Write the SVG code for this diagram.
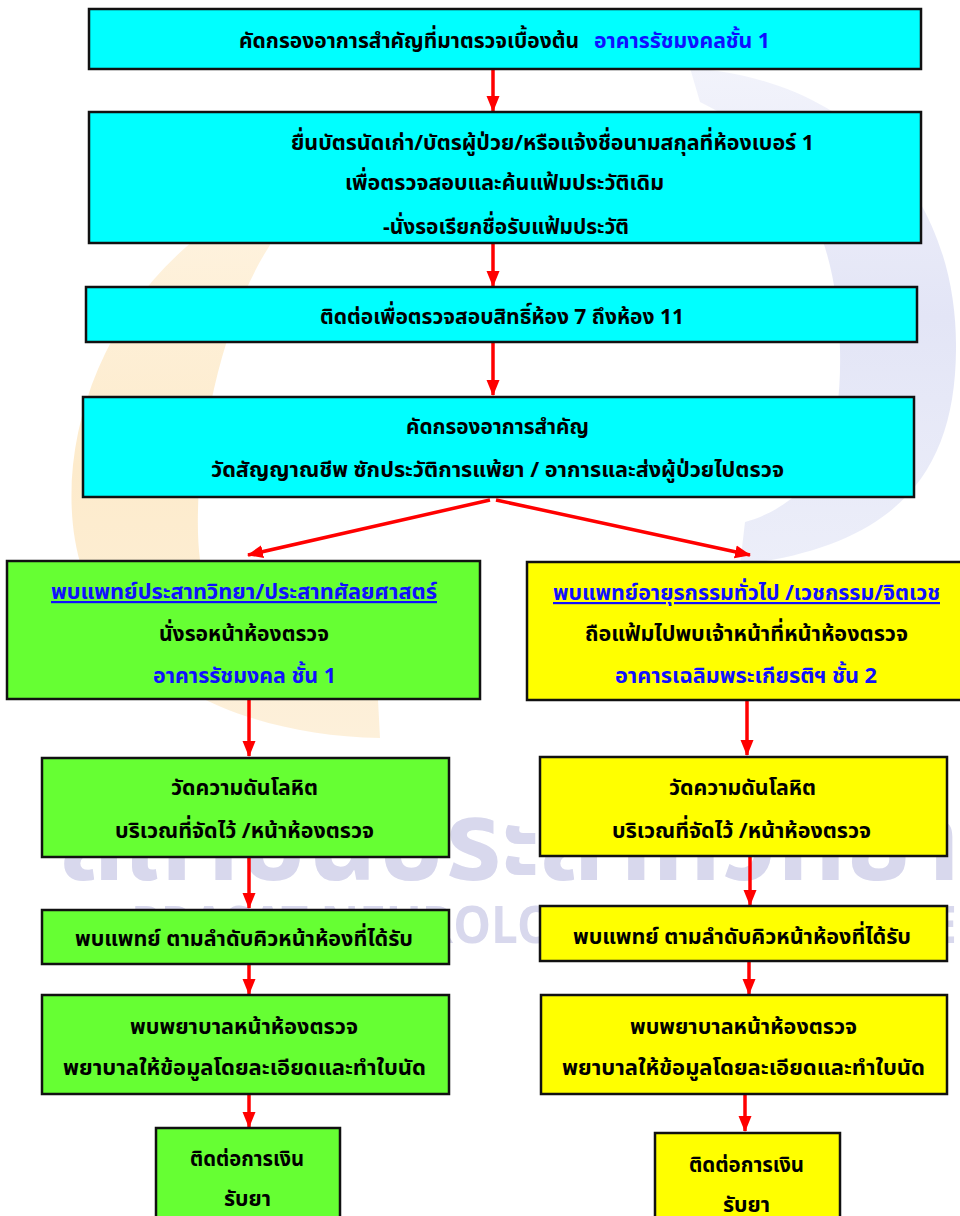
<svg xmlns="http://www.w3.org/2000/svg" width="960" height="1216" viewBox="0 0 960 1216">
<defs>
<style>
.t{font-family:Tahoma,"Noto Sans Thai","Noto Sans","DejaVu Sans",sans-serif;font-weight:bold;font-size:22px;fill:#000}
.b{fill:#1010ff}
.u{text-decoration:underline}
.cy{fill:#00ffff;stroke:#111;stroke-width:2.5}
.gr{fill:#66ff33;stroke:#111;stroke-width:2.5}
.ye{fill:#ffff00;stroke:#111;stroke-width:2.5}
.ar{stroke:#ff0000;stroke-width:3.5;fill:none;marker-end:url(#ah)}
.wm{font-family:Tahoma,"Noto Sans Thai","Noto Sans",sans-serif;font-weight:bold;fill:#d8d8ed}
</style>
<marker id="ah" markerUnits="userSpaceOnUse" markerWidth="16" markerHeight="16" viewBox="0 0 16 16" refX="15" refY="8" orient="auto">
<path d="M0,1.5 L16,8 L0,14.5 Z" fill="#ff0000"/>
</marker>
<linearGradient id="og" x1="0" y1="0" x2="0" y2="1">
<stop offset="0" stop-color="#fef3e0"/>
<stop offset="0.5" stop-color="#fdebcc"/>
<stop offset="1" stop-color="#fdf0da"/>
</linearGradient>
<linearGradient id="bg" x1="0" y1="0" x2="0" y2="1">
<stop offset="0" stop-color="#f2f3fb"/>
<stop offset="0.5" stop-color="#e3e5f6"/>
<stop offset="1" stop-color="#eceef9"/>
</linearGradient>
</defs>
<rect width="960" height="1216" fill="#ffffff"/>
<g id="watermark">
<path d="M268,195 C120,260 55,420 75,540 C95,660 220,735 380,738 L378,700 C300,695 215,650 200,560 C190,480 215,330 270,245 Z" fill="url(#og)"/>
<path d="M690,68 C860,80 958,200 956,350 C955,470 900,545 740,565 L745,522 C820,500 842,440 840,350 C838,240 800,150 700,102 Z" fill="url(#bg)"/>
<text class="wm" x="60" y="880" font-size="110" textLength="900" lengthAdjust="spacingAndGlyphs">สถาบันประสาทวิทยา</text>
<text class="wm" x="131" y="943" font-size="52" textLength="826" lengthAdjust="spacingAndGlyphs">PRASAT NEUROLOGICAL INSTITUTE</text>
</g>
<g id="connectors">
<line class="ar" x1="493" y1="69" x2="493" y2="111"/>
<line class="ar" x1="493" y1="243" x2="493" y2="286"/>
<line class="ar" x1="493" y1="342" x2="493" y2="395"/>
<line class="ar" x1="490" y1="500" x2="248" y2="555"/>
<line class="ar" x1="496" y1="500" x2="750" y2="555"/>
<line class="ar" x1="249" y1="699" x2="249" y2="756"/>
<line class="ar" x1="747" y1="700" x2="747" y2="755"/>
<line class="ar" x1="249" y1="857" x2="249" y2="908"/>
<line class="ar" x1="750" y1="856" x2="750" y2="905"/>
<line class="ar" x1="249" y1="964" x2="249" y2="994"/>
<line class="ar" x1="749" y1="961" x2="749" y2="994"/>
<line class="ar" x1="249" y1="1094" x2="249" y2="1127"/>
<line class="ar" x1="745" y1="1088" x2="745" y2="1131"/>
</g>
<g id="n1">
<rect class="cy" x="89" y="9" width="832" height="60"/>
<text class="t" x="239" y="48" textLength="340" lengthAdjust="spacingAndGlyphs">คัดกรองอาการสำคัญที่มาตรวจเบื้องต้น</text>
<text class="t b" x="594" y="48" textLength="176" lengthAdjust="spacingAndGlyphs">อาคารรัชมงคลชั้น 1</text>
</g>
<g id="n2">
<rect class="cy" x="89" y="112" width="832" height="131"/>
<text class="t" x="291" y="150" textLength="523" lengthAdjust="spacingAndGlyphs">ยื่นบัตรนัดเก่า/บัตรผู้ป่วย/หรือแจ้งชื่อนามสกุลที่ห้องเบอร์  1</text>
<text class="t" x="345" y="190" textLength="319" lengthAdjust="spacingAndGlyphs">เพื่อตรวจสอบและค้นแฟ้มประวัติเดิม</text>
<text class="t" x="383" y="234" textLength="246" lengthAdjust="spacingAndGlyphs">-นั่งรอเรียกชื่อรับแฟ้มประวัติ</text>
</g>
<g id="n3">
<rect class="cy" x="86" y="287" width="831" height="55"/>
<text class="t" x="320" y="324" textLength="364" lengthAdjust="spacingAndGlyphs">ติดต่อเพื่อตรวจสอบสิทธิ์ห้อง 7 ถึงห้อง 11</text>
</g>
<g id="n4">
<rect class="cy" x="83" y="397" width="831" height="100"/>
<text class="t" x="406" y="434" textLength="183" lengthAdjust="spacingAndGlyphs">คัดกรองอาการสำคัญ</text>
<text class="t" x="211" y="477" textLength="573" lengthAdjust="spacingAndGlyphs">วัดสัญญาณชีพ ซักประวัติการแพ้ยา / อาการและส่งผู้ป่วยไปตรวจ</text>
</g>
<g id="g1">
<rect class="gr" x="7" y="561" width="473" height="138"/>
<text class="t b u" x="51" y="599" textLength="386" lengthAdjust="spacingAndGlyphs">พบแพทย์ประสาทวิทยา/ประสาทศัลยศาสตร์</text>
<text class="t" x="159" y="641" textLength="170" lengthAdjust="spacingAndGlyphs">นั่งรอหน้าห้องตรวจ</text>
<text class="t b" x="153" y="683" textLength="183" lengthAdjust="spacingAndGlyphs">อาคารรัชมงคล ชั้น 1</text>
</g>
<g id="y1">
<rect class="ye" x="527" y="562" width="442" height="138"/>
<text class="t b u" x="553" y="600" textLength="387" lengthAdjust="spacingAndGlyphs">พบแพทย์อายุรกรรมทั่วไป /เวชกรรม/จิตเวช</text>
<text class="t" x="585" y="641" textLength="323" lengthAdjust="spacingAndGlyphs">ถือแฟ้มไปพบเจ้าหน้าที่หน้าห้องตรวจ</text>
<text class="t b" x="615" y="683" textLength="262" lengthAdjust="spacingAndGlyphs">อาคารเฉลิมพระเกียรติฯ ชั้น 2</text>
</g>
<g id="g2">
<rect class="gr" x="42" y="758" width="407" height="99"/>
<text class="t" x="171" y="795" textLength="147" lengthAdjust="spacingAndGlyphs">วัดความดันโลหิต</text>
<text class="t" x="115" y="838" textLength="259" lengthAdjust="spacingAndGlyphs">บริเวณที่จัดไว้ /หน้าห้องตรวจ</text>
</g>
<g id="y2">
<rect class="ye" x="540" y="757" width="407" height="99"/>
<text class="t" x="669" y="795" textLength="147" lengthAdjust="spacingAndGlyphs">วัดความดันโลหิต</text>
<text class="t" x="612" y="838" textLength="259" lengthAdjust="spacingAndGlyphs">บริเวณที่จัดไว้ /หน้าห้องตรวจ</text>
</g>
<g id="g3">
<rect class="gr" x="42" y="910" width="407" height="54"/>
<text class="t" x="75" y="946" textLength="338" lengthAdjust="spacingAndGlyphs">พบแพทย์ ตามลำดับคิวหน้าห้องที่ได้รับ</text>
</g>
<g id="y3">
<rect class="ye" x="540" y="906" width="407" height="55"/>
<text class="t" x="573" y="944" textLength="338" lengthAdjust="spacingAndGlyphs">พบแพทย์ ตามลำดับคิวหน้าห้องที่ได้รับ</text>
</g>
<g id="g4">
<rect class="gr" x="42" y="995" width="407" height="99"/>
<text class="t" x="130" y="1034" textLength="228" lengthAdjust="spacingAndGlyphs">พบพยาบาลหน้าห้องตรวจ</text>
<text class="t" x="63" y="1075" textLength="363" lengthAdjust="spacingAndGlyphs">พยาบาลให้ข้อมูลโดยละเอียดและทำใบนัด</text>
</g>
<g id="y4">
<rect class="ye" x="541" y="995" width="406" height="99"/>
<text class="t" x="630" y="1034" textLength="227" lengthAdjust="spacingAndGlyphs">พบพยาบาลหน้าห้องตรวจ</text>
<text class="t" x="562" y="1075" textLength="363" lengthAdjust="spacingAndGlyphs">พยาบาลให้ข้อมูลโดยละเอียดและทำใบนัด</text>
</g>
<g id="g5">
<rect class="gr" x="156" y="1128" width="184" height="100"/>
<text class="t" x="190" y="1166" textLength="114" lengthAdjust="spacingAndGlyphs">ติดต่อการเงิน</text>
<text class="t" x="224" y="1206" textLength="47" lengthAdjust="spacingAndGlyphs">รับยา</text>
</g>
<g id="y5">
<rect class="ye" x="655" y="1133" width="185" height="100"/>
<text class="t" x="689" y="1172" textLength="115" lengthAdjust="spacingAndGlyphs">ติดต่อการเงิน</text>
<text class="t" x="723" y="1212" textLength="47" lengthAdjust="spacingAndGlyphs">รับยา</text>
</g>
</svg>
